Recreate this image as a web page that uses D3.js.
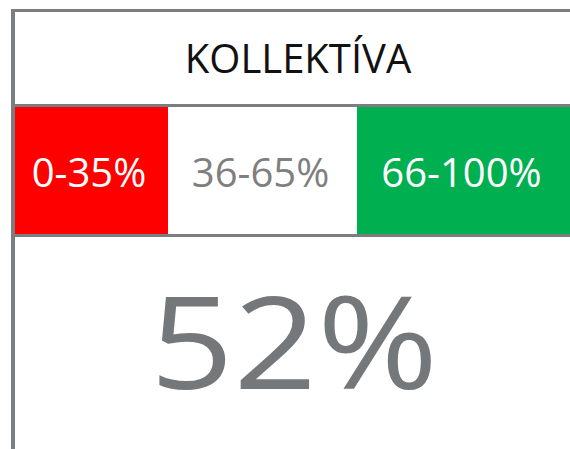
<!DOCTYPE html>
<html lang="sk">
<head>
  <meta charset="UTF-8" />
  <title>Kollektíva</title>
  <script src="https://d3js.org/d3.v7.min.js"></script>
  <style>
    body{margin:0;background:#fff}
    svg{display:block}
  </style>
</head>
<body>
  <div id="chart"></div>
  <script>
    const title = "KOLLEKTÍVA";
    const bandLabels = ["0-35%", "36-65%", "66-100%"];
    const bandRanges = [[0, 35], [36, 65], [66, 100]];
    const value = 52;

    const W = 570, H = 449;
    const BORDER = "#7b7e81";
    const FONT = "'Open Sans', sans-serif";

    const svg = d3.select("#chart").append("svg").attr("width", W).attr("height", H);

    // band edges in px (the cells are not proportional to their ranges)
    const edges = [14, 168, 357, W];
    const bandFill = d3.scaleOrdinal().domain(bandLabels).range(["#ff0000", "#ffffff", "#00b050"]);
    const bandText = d3.scaleOrdinal().domain(bandLabels).range(["#ffffff", "#7f7f7f", "#ffffff"]);

    const bands = bandLabels.map((l, i) => ({ label: l, range: bandRanges[i], x0: edges[i], x1: edges[i + 1] }));

    svg.selectAll("rect.band").data(bands).enter().append("rect")
      .attr("class", "band")
      .attr("x", d => d.x0).attr("y", 107)
      .attr("width", d => d.x1 - d.x0).attr("height", 127)
      .attr("fill", d => bandFill(d.label));

    svg.selectAll("text.band").data(bands).enter().append("text")
      .attr("class", "band")
      .attr("x", d => (d.x0 + d.x1) / 2 - 2).attr("y", 187)
      .attr("text-anchor", "middle")
      .style("font-family", FONT).style("font-size", "40px")
      .attr("fill", d => bandText(d.label))
      .text(d => d.label);

    // frame lines
    svg.append("rect").attr("x", 11).attr("y", 9).attr("width", W - 11).attr("height", 3).attr("fill", BORDER);
    svg.append("rect").attr("x", 11).attr("y", 104).attr("width", W - 11).attr("height", 3).attr("fill", BORDER);
    svg.append("rect").attr("x", 11).attr("y", 234).attr("width", W - 11).attr("height", 3).attr("fill", BORDER);
    svg.append("rect").attr("x", 11).attr("y", 9).attr("width", 4).attr("height", H - 9).attr("fill", BORDER);

    svg.append("text")
      .attr("x", 298).attr("y", 73)
      .attr("text-anchor", "middle")
      .style("font-family", FONT).style("font-size", "40px")
      .attr("fill", "#111")
      .text(title);

    svg.append("text")
      .attr("x", 294).attr("y", 389)
      .attr("text-anchor", "middle")
      .attr("textLength", 288).attr("lengthAdjust", "spacingAndGlyphs")
      .style("font-family", FONT).style("font-size", "129px")
      .attr("fill", "#75787b")
      .text(d3.format("d")(value) + "%");
  </script>
</body>
</html>
